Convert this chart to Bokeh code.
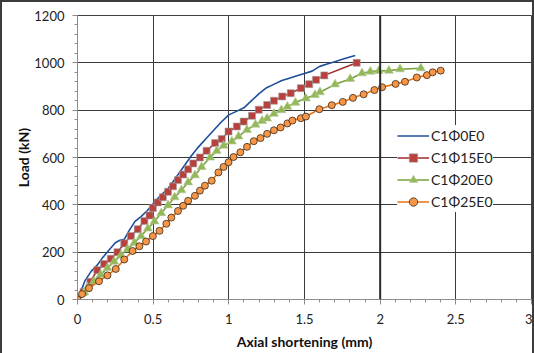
from bokeh.plotting import figure
from bokeh.models import Range1d, FixedTicker, Legend, LegendItem, Span
from bokeh.embed import file_html
from bokeh.resources import INLINE

# Load vs. axial shortening for four column specimens
x_c1p0 = [0, 0.02, 0.05, 0.09, 0.13, 0.17, 0.21, 0.25, 0.28, 0.31, 0.34, 0.38, 0.42, 0.46,
          0.50, 0.55, 0.60, 0.65, 0.70, 0.75, 0.80, 0.85, 0.90, 0.95, 1.00, 1.05, 1.10,
          1.15, 1.20, 1.25, 1.30, 1.35, 1.40, 1.45, 1.50, 1.55, 1.60, 1.65, 1.70, 1.75,
          1.80, 1.835]
y_c1p0 = [0, 30, 80, 119, 145, 180, 210, 240, 250, 255, 290, 330, 350, 375,
          405, 440, 470, 515, 560, 605, 645, 680, 715, 750, 780, 795, 810,
          840, 870, 895, 910, 925, 935, 945, 955, 965, 985, 995, 1005, 1015,
          1025, 1031]

x_c1p15 = [0, 0.04, 0.085, 0.131, 0.176, 0.22, 0.264, 0.309, 0.353, 0.398, 0.442, 0.476,
           0.498, 0.53, 0.564, 0.598, 0.631, 0.664, 0.698, 0.731, 0.765, 0.809, 0.853,
           0.909, 0.953, 0.998, 1.053, 1.098, 1.153, 1.198, 1.253, 1.298, 1.353, 1.409,
           1.476, 1.531, 1.576, 1.631, 1.845]
y_c1p15 = [0, 32, 75, 124, 150, 172, 200, 237, 268, 297, 332, 355,
           387, 410, 432, 455, 478, 505, 528, 550, 575, 600, 628,
           661, 678, 710, 731, 752, 776, 802, 822, 840, 858, 872,
           893, 910, 928, 947, 1000]

x_c1p20 = [0, 0.045, 0.065, 0.109, 0.153, 0.198, 0.242, 0.287, 0.331, 0.376, 0.42, 0.465,
           0.509, 0.553, 0.598, 0.642, 0.687, 0.731, 0.776, 0.82, 0.876, 0.92, 0.965,
           1.02, 1.064, 1.12, 1.176, 1.22, 1.253, 1.298, 1.347, 1.387, 1.44, 1.509,
           1.569, 1.602, 1.702, 1.802, 1.88, 1.935, 1.991, 2.058, 2.131, 2.269]
y_c1p20 = [0, 30, 50, 77, 105, 133, 160, 186, 213, 240, 268, 300,
           330, 365, 398, 432, 462, 495, 525, 560, 600, 628, 650,
           668, 689, 717, 739, 755, 765, 785, 800, 815, 832, 850,
           864, 876, 909, 932, 956, 963, 966, 967, 973, 977]

x_c1p25 = [0, 0.03, 0.076, 0.142, 0.198, 0.253, 0.309, 0.364, 0.409, 0.453, 0.498, 0.542,
           0.587, 0.62, 0.664, 0.698, 0.731, 0.776, 0.809, 0.842, 0.887, 0.931, 0.965,
           0.998, 1.031, 1.076, 1.12, 1.165, 1.209, 1.253, 1.298, 1.342, 1.387, 1.42,
           1.476, 1.509, 1.598, 1.68, 1.753, 1.82, 1.891, 1.962, 2.013, 2.102, 2.164,
           2.242, 2.309, 2.347, 2.40]
y_c1p25 = [0, 23, 48, 77, 102, 129, 169, 205, 225, 245, 268, 290,
           320, 346, 374, 396, 417, 438, 460, 481, 502, 537, 560,
           580, 602, 622, 645, 669, 682, 700, 715, 727, 744, 756,
           766, 773, 804, 821, 835, 852, 867, 885, 897, 911, 920,
           938, 948, 960, 967]

series_names = ["C1\u03a60E0", "C1\u03a615E0", "C1\u03a620E0", "C1\u03a625E0"]
x_ticks = [0, 0.5, 1, 1.5, 2, 2.5, 3]
y_ticks = [0, 200, 400, 600, 800, 1000, 1200]

FONT = "Lato"

p = figure(width=534, height=353, output_backend="svg", toolbar_location=None,
           x_range=Range1d(0, 3), y_range=Range1d(0, 1200),
           min_border_left=75, min_border_right=5, min_border_top=13, min_border_bottom=56)
p.styles = {"border-left": "2px solid #3c3c3c", "border-top": "2px solid #3c3c3c",
            "border-right": "2px solid #3c3c3c", "box-sizing": "border-box"}

p.outline_line_color = "#404040"
p.background_fill_color = "white"
p.border_fill_color = "white"

# axes
p.xaxis.ticker = FixedTicker(ticks=x_ticks, minor_ticks=[i / 10 for i in range(31)])
p.yaxis.ticker = FixedTicker(ticks=y_ticks, minor_ticks=list(range(0, 1201, 40)))
p.xaxis.major_label_overrides = {0: "0", 0.5: "0.5", 1: "1", 1.5: "1.5", 2: "2", 2.5: "2.5", 3: "3"}
for ax in (p.xaxis[0], p.yaxis[0]):
    ax.axis_line_color = "#8c8c8c"
    ax.major_tick_line_color = "#8c8c8c"
    ax.minor_tick_line_color = "#8c8c8c"
    ax.major_tick_out = 5
    ax.major_tick_in = 0
    ax.minor_tick_out = 3
    ax.minor_tick_in = 0
    ax.major_label_text_font = FONT
    ax.major_label_text_font_size = "13px"
    ax.major_label_text_color = "#222222"
    ax.axis_label_text_font = FONT
    ax.axis_label_text_font_style = "bold"
    ax.axis_label_text_font_size = "14px"
    ax.axis_label_text_color = "#111111"
p.xaxis.axis_label = "Axial shortening (mm)"
p.yaxis.axis_label = "Load (kN)"
p.xaxis.major_label_standoff = 9
p.yaxis.major_label_standoff = 8
p.xaxis.axis_label_standoff = 6
p.yaxis.axis_label_standoff = -1

p.grid.grid_line_color = "#3a3a3a"
p.grid.grid_line_width = 1
p.xgrid.ticker = FixedTicker(ticks=x_ticks)
p.ygrid.ticker = FixedTicker(ticks=y_ticks)
p.add_layout(Span(location=2, dimension="height", line_color="#2a2a2a", line_width=2))

# series
r0 = p.line(x_c1p0, y_c1p0, line_color="#1f4e99", line_width=1.6)

r1l = p.line(x_c1p15, y_c1p15, line_color="#9b2d2a", line_width=1.6)
r1m = p.scatter(x_c1p15, y_c1p15, marker="square", size=7,
                fill_color="#b8403d", line_color="#a0a0a0", line_width=0.6)

r2l = p.line(x_c1p20, y_c1p20, line_color="#77a03a", line_width=1.6)
r2m = p.scatter(x_c1p20, y_c1p20, marker="triangle", size=9,
                fill_color="#92b956", line_color="#b8c8a0", line_width=0.6)

r3l = p.line(x_c1p25, y_c1p25, line_color="#e8740f", line_width=1.6)
r3m = p.scatter(x_c1p25, y_c1p25, marker="circle", size=7,
                fill_color="#f79646", line_color="#3a2a1a", line_width=0.8)

legend = Legend(items=[
    LegendItem(label=series_names[0], renderers=[r0]),
    LegendItem(label=series_names[1], renderers=[r1l, r1m]),
    LegendItem(label=series_names[2], renderers=[r2l, r2m]),
    LegendItem(label=series_names[3], renderers=[r3l, r3m]),
], location=(320, 87))
legend.border_line_color = None
legend.background_fill_color = "white"
legend.background_fill_alpha = 1
legend.label_text_font = FONT
legend.label_text_font_size = "14px"
legend.label_text_color = "#222222"
legend.glyph_width = 32
legend.glyph_height = 21
legend.label_height = 21
legend.label_standoff = 2
legend.spacing = 1
legend.padding = 4
legend.margin = 0
p.add_layout(legend)

open("out.html", "w").write(file_html(p, INLINE))
